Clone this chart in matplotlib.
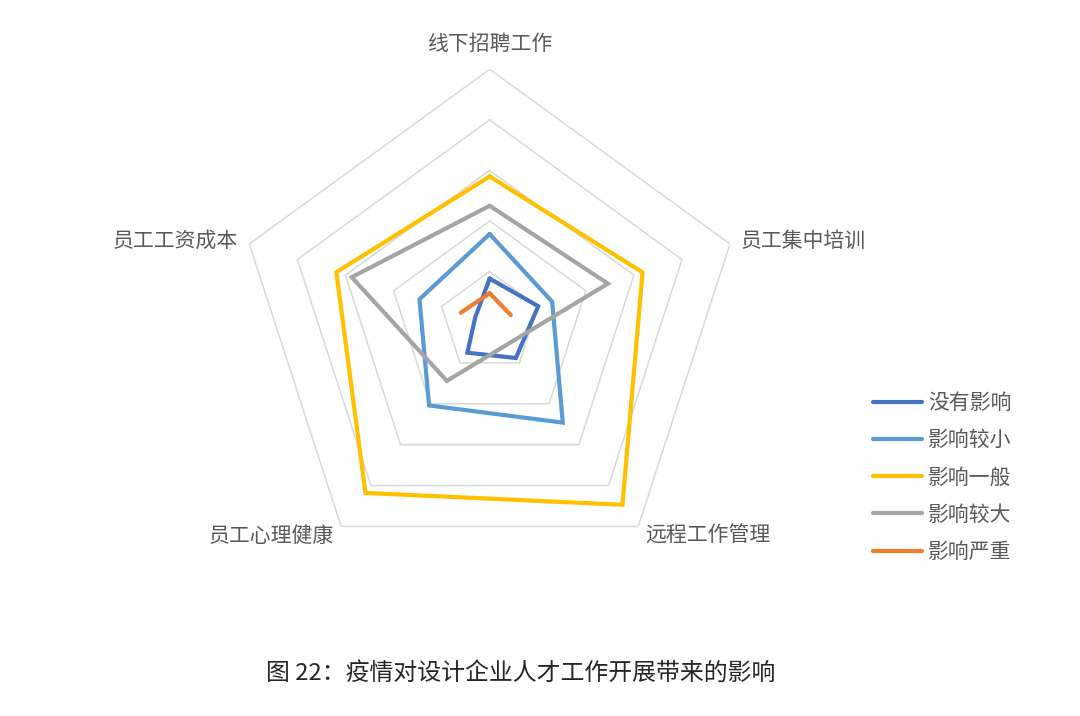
import numpy as np
import matplotlib.pyplot as plt

plt.rcParams['font.family'] = ['Noto Sans CJK SC', 'DejaVu Sans']

categories = ["线下招聘工作", "员工集中培训", "远程工作管理", "员工心理健康", "员工工资成本"]
series_names = ["没有影响", "影响较小", "影响一般", "影响较大", "影响严重"]

no_impact = [8.6, 10.1, 8.8, 7.5, 3.0]
small_impact = [17.4, 13.0, 24.6, 20.4, 14.6]
medium_impact = [28.8, 31.8, 44.7, 41.8, 31.9]
large_impact = [23.0, 24.6, np.nan, 14.4, 28.7]
severe_impact = [5.7, 4.4, np.nan, np.nan, 6.0]

colors = ["#4472C4", "#5B9BD5", "#FFC000", "#A5A5A5", "#ED7D31"]
# gray series in the original skips the blank value, orange leaves gaps
connect_gaps = [True, True, True, True, False]

rmax = 50
rings = [10, 20, 30, 40, 50]

fig = plt.figure(figsize=(10.8, 7.16), dpi=100)
ax = fig.add_axes([0.2194, 0.1973, 0.468, 0.7059], projection="polar")
ax.set_theta_zero_location("N")
ax.set_theta_direction(-1)
ax.set_ylim(0, rmax)
ax.grid(False)
ax.spines["polar"].set_visible(False)
ax.set_xticks([])
ax.set_yticks([])

n = len(categories)
theta = np.arange(n) * 2 * np.pi / n
theta_closed = np.append(theta, theta[0])

for r in rings:
    ax.plot(theta_closed, [r] * (n + 1), color="#D9D9D9", lw=1.1, zorder=1)

all_series = [no_impact, small_impact, medium_impact, large_impact, severe_impact]
for vals, name, c, conn in zip(all_series, series_names, colors, connect_gaps):
    v = np.array(vals, dtype=float)
    t = theta
    if conn:
        mask = ~np.isnan(v)
        v = v[mask]
        t = theta[mask]
    v = np.append(v, v[0])
    t = np.append(t, t[0])
    ax.plot(t, v, color=c, lw=3.0, label=name, solid_capstyle="round",
            solid_joinstyle="miter", zorder=3)

label_color = "#595959"
label_r = 52.3
align = [("center", "center"), ("left", "center"), ("left", "center"),
         ("right", "center"), ("right", "center")]
for i, (cat, (ha, va)) in enumerate(zip(categories, align)):
    r = 55 if i == 0 else label_r
    ax.text(theta[i], r, cat, ha=ha, va=va, fontsize=15, color=label_color)

fig.legend(loc="upper left", bbox_to_anchor=(0.808, 0.4525), frameon=False,
           fontsize=15, handlelength=2.35, handletextpad=0.3, labelspacing=0.73,
           borderpad=0, borderaxespad=0, labelcolor=label_color)

fig.text(0.482, 0.060, "图 22：疫情对设计企业人才工作开展带来的影响",
         ha="center", va="center", fontsize=17.2, color="#262626")

plt.savefig("out.png", dpi=100)
